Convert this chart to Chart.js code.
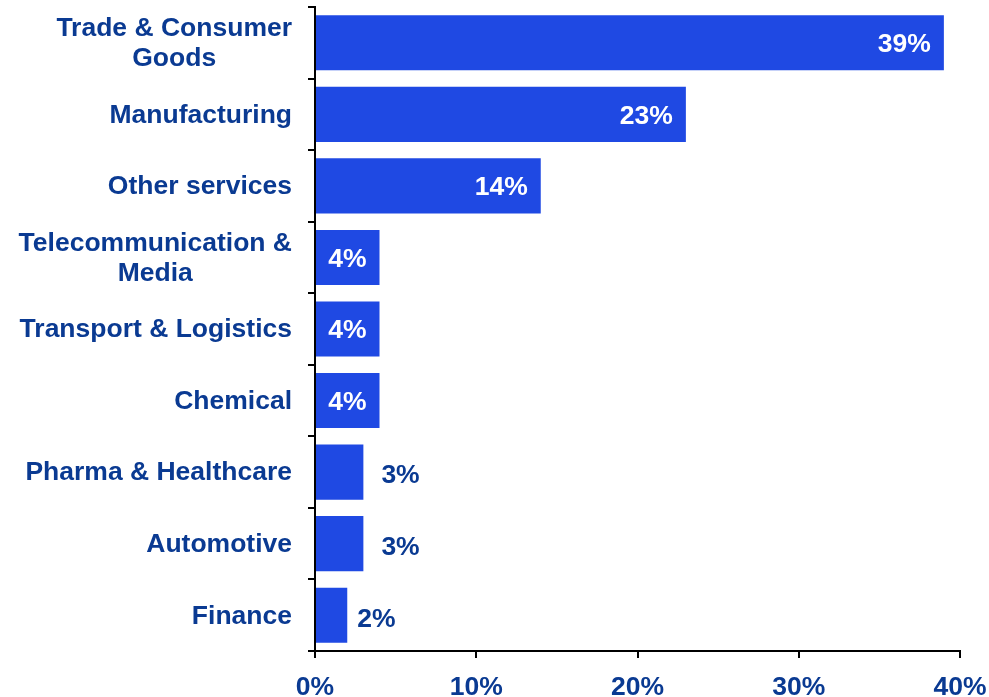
<!DOCTYPE html>
<html>
<head>
<meta charset="utf-8">
<script src="https://cdn.jsdelivr.net/npm/chart.js@4.4.1/dist/chart.umd.min.js"></script>
<style>
  html, body { margin: 0; padding: 0; background: #fff; }
  #wrap { width: 989px; height: 697px; }
</style>
</head>
<body>
<div id="wrap"><canvas id="sectorChart"></canvas></div>
<script>
// ── Share by industry ─────────────────────────────────────────────
const sectors = [
  ['Trade & Consumer', 'Goods'],
  ['Manufacturing'],
  ['Other services'],
  ['Telecommunication &', 'Media'],
  ['Transport & Logistics'],
  ['Chemical'],
  ['Pharma & Healthcare'],
  ['Automotive'],
  ['Finance'],
];
const shares = [39, 23, 14, 4, 4, 4, 3, 3, 2];
const xTicks = [0, 10, 20, 30, 40];

const BAR = '#1f49e3';
const INK = '#0a3a92';
const FAMILY = "'Liberation Sans', Arial, sans-serif";
const FONT = 'bold 26.5px ' + FAMILY;

// category labels: right-aligned block, lines centred on each other
const sectorLabels = {
  id: 'sectorLabels',
  afterDraw(chart) {
    const { ctx, scales: { y } } = chart;
    const right = 292;
    ctx.save();
    ctx.font = FONT;
    ctx.fillStyle = INK;
    ctx.textBaseline = 'middle';
    ctx.textAlign = 'center';
    sectors.forEach((lines, i) => {
      const cy = y.getPixelForValue(i);
      const widest = Math.max(...lines.map(l => ctx.measureText(l).width));
      const cx = right - widest / 2;
      const lh = 30;
      lines.forEach((l, j) => {
        ctx.fillText(l, cx, cy + (j - (lines.length - 1) / 2) * lh + 1);
      });
    });
    ctx.restore();
  }
};

// value labels: inside the bar when it is wide enough, otherwise after it
const valueLabels = {
  id: 'valueLabels',
  afterDatasetsDraw(chart) {
    const { ctx } = chart;
    const meta = chart.getDatasetMeta(0);
    ctx.save();
    ctx.font = FONT;
    ctx.textBaseline = 'middle';
    meta.data.forEach((bar, i) => {
      const v = shares[i];
      const txt = v + '%';
      if (v >= 4) {
        ctx.fillStyle = '#ffffff';
        ctx.textAlign = 'right';
        ctx.fillText(txt, bar.x - 13, bar.y + 2);
      } else {
        ctx.fillStyle = INK;
        ctx.textAlign = 'left';
        ctx.fillText(txt, bar.x + (v === 2 ? 10 : 18), bar.y + 4);
      }
    });
    ctx.restore();
  }
};

new Chart(document.getElementById('sectorChart'), {
  type: 'bar',
  data: {
    labels: sectors.map(s => s.join(' ')),
    datasets: [{
      data: shares,
      backgroundColor: BAR,
      borderWidth: 0,
      barPercentage: 0.77,
      categoryPercentage: 1,
    }]
  },
  options: {
    indexAxis: 'y',
    responsive: true,
    maintainAspectRatio: false,
    animation: false,
    layout: { padding: { top: 7, left: 0, right: 0, bottom: 0 } },
    plugins: { legend: { display: false }, tooltip: { enabled: false } },
    scales: {
      x: {
        min: 0,
        max: 40,
        afterBuildTicks: s => { s.ticks = xTicks.map(v => ({ value: v })); },
        afterFit: s => {
          s.height = 46;
          // keep the 40% tick at x=960, its label may run to the edge
          s.paddingLeft = 0;
          s.paddingRight = 29;
        },
        border: { color: '#000', width: 2 },
        grid: { drawOnChartArea: false, drawTicks: true, tickLength: 7, color: '#000', lineWidth: 2 },
        ticks: {
          color: INK,
          padding: 14,
          maxRotation: 0,
          font: { family: FAMILY, size: 26.5, weight: 'bold' },
          callback: v => v + '%',
        },
      },
      y: {
        afterFit: s => { s.width = 315; },
        border: { color: '#000', width: 2 },
        grid: { offset: true, drawOnChartArea: false, drawTicks: true, tickLength: 7, color: '#000', lineWidth: 2 },
        ticks: { display: false },
      },
    },
  },
  plugins: [sectorLabels, valueLabels],
});
</script>
</body>
</html>
